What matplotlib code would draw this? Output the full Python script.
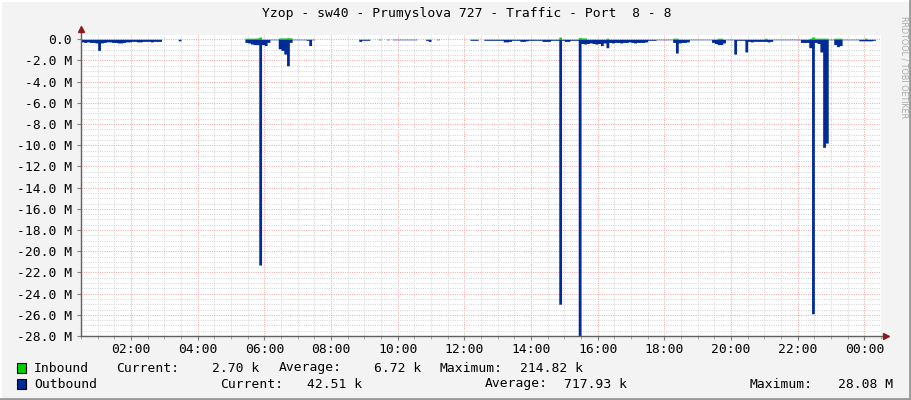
import numpy as np
import matplotlib
matplotlib.use("Agg")
import matplotlib.pyplot as plt
from matplotlib.lines import Line2D
from matplotlib.patches import Rectangle
from matplotlib.ticker import FixedLocator, MultipleLocator

N = np.nan

# 5-minute samples from 00:30 to 00:30 next day, values in Mbit/s
outbound = [
    0.25, 0.3, 0.25, 0.3, 0.3, 0.35, 1.05, 0.35, 0.3, 0.25, 0.25, 0.3,
    0.3, 0.35, 0.35, 0.3, 0.25, 0.25, 0.2, 0.2, 0.25, 0.25, 0.2, 0.2,
    0.2, 0.25, 0.2, 0.2, 0.2, N, N, N, N, N, N, 0.15,
    N, N, N, N, N, N, N, N, N, N, N, N,
    N, N, N, N, N, N, N, N, N, N, N, 0.3,
    0.35, 0.45, 0.5, 0.5, 21.3, 0.5, 0.6, 0.3, 0.05, 0.05, 0.05, 0.9,
    1.05, 1.4, 2.5, 0.3, 0.05, 0.05, 0.05, 0.05, 0.05, 0.1, 0.6, 0.05,
    N, N, N, N, N, N, N, N, N, N, N, N,
    N, N, N, N, 0.2, 0.1, 0.1, 0.1, N, N, N, 0.05,
    N, N, 0.05, N, 0.05, 0.05, 0.05, 0.05, 0.05, 0.05, 0.05, 0.05,
    0.05, N, N, N, 0.1, 0.2, N, N, 0.05, N, N, N,
    N, N, N, N, N, N, N, N, 0.1, 0.1, 0.1, N,
    N, 0.1, 0.1, 0.1, 0.1, 0.1, 0.1, 0.1, 0.25, 0.25, 0.2, 0.1,
    0.1, 0.1, 0.2, 0.2, 0.15, 0.1, 0.1, 0.1, 0.1, 0.1, 0.2, 0.2,
    0.2, 0.1, 0.1, 0.1, 25.0, 0.1, 0.2, 0.2, 0.1, 0.1, 0.1, 28.08,
    0.4, 0.45, 0.4, 0.35, 0.4, 0.45, 0.4, 0.6, 0.35, 0.8, 0.3, 0.35,
    0.3, 0.3, 0.35, 0.3, 0.3, 0.25, 0.3, 0.35, 0.3, 0.3, 0.3, 0.25,
    0.1, 0.1, 0.1, 0.05, 0.05, 0.05, 0.05, 0.05, 0.05, 0.3, 1.3, 0.35,
    0.3, 0.3, 0.25, 0.05, 0.05, 0.05, 0.05, 0.05, 0.05, 0.05, 0.05, 0.3,
    0.4, 0.5, 0.5, 0.35, 0.05, 0.05, 0.05, 1.4, 0.1, 0.1, 0.1, 1.2,
    0.2, 0.25, 0.2, 0.2, 0.2, 0.2, 0.2, 0.25, 0.2, 0.05, 0.05, 0.05,
    0.05, 0.05, 0.05, 0.05, 0.05, 0.05, 0.05, 0.3, 0.3, 0.3, 0.8, 25.9,
    0.3, 0.4, 1.2, 10.2, 9.8, 0.05, 0.05, 0.5, 0.7, 0.6, 0.05, 0.05,
    0.05, 0.05, 0.05, 0.05, 0.15, 0.15, 0.15, 0.15, 0.15, 0.1, N, N,
]

inbound = [
    0, 0, 0, 0, 0, 0, 0, 0, 0, 0, 0, 0,
    0, 0, 0, 0, 0, 0, 0, 0, 0, 0, 0, 0,
    0, 0, 0, 0, 0, 0, 0, 0, 0, 0, 0, 0,
    0, 0, 0, 0, 0, 0, 0, 0, 0, 0, 0, 0,
    0, 0, 0, 0, 0, 0, 0, 0, 0, 0, 0, 0.1,
    0.1, 0.1, 0.1, 0.12, 0.2, 0, 0, 0, 0, 0, 0, 0.12,
    0.12, 0.12, 0.15, 0.12, 0, 0, 0, 0, 0, 0, 0, 0,
    0, 0, 0, 0, 0, 0, 0, 0, 0, 0, 0, 0,
    0, 0, 0, 0, 0, 0, 0, 0, 0, 0, 0, 0,
    0, 0, 0, 0, 0, 0, 0, 0, 0, 0, 0, 0,
    0, 0, 0, 0, 0, 0, 0, 0, 0, 0, 0, 0,
    0, 0, 0, 0, 0, 0, 0, 0, 0, 0, 0, 0,
    0, 0, 0, 0, 0, 0, 0, 0, 0, 0, 0, 0,
    0, 0, 0, 0, 0, 0, 0, 0, 0, 0, 0, 0,
    0, 0, 0, 0, 0.2, 0, 0, 0, 0, 0, 0, 0.15,
    0.12, 0.12, 0, 0, 0, 0, 0, 0, 0, 0.1, 0, 0,
    0, 0, 0, 0, 0, 0, 0, 0, 0, 0, 0, 0,
    0, 0, 0, 0, 0, 0, 0, 0, 0, 0.1, 0.1, 0,
    0, 0, 0, 0, 0, 0, 0, 0, 0, 0, 0, 0,
    0, 0.1, 0.1, 0, 0, 0, 0, 0, 0, 0, 0, 0,
    0, 0, 0, 0, 0, 0, 0.1, 0, 0, 0, 0, 0,
    0, 0, 0, 0, 0, 0, 0, 0, 0, 0, 0.1, 0.21,
    0.1, 0.1, 0.1, 0.1, 0.1, 0, 0, 0.1, 0.1, 0.1, 0, 0,
    0, 0, 0, 0, 0, 0, 0.1, 0, 0, 0, 0, 0,
]

start_hour = 0.5
step_hours = 5 / 60
x_ticks = list(range(2, 25, 2))
x_labels = ["02:00", "04:00", "06:00", "08:00", "10:00", "12:00",
            "14:00", "16:00", "18:00", "20:00", "22:00", "00:00"]
y_ticks = list(range(-28, 1, 2))

title = "Yzop - sw40 - Prumyslova 727 - Traffic - Port  8 - 8"
legend_rows = [
    ("#00CF00", "Inbound", [("Current:", 116), ("2.70 k", 259), ("Average:", 279),
                             ("6.72 k", 421), ("Maximum:", 440), ("214.82 k", 583)]),
    ("#002A97", "Outbound", [("Current:", 220), ("42.51 k", 362), ("Average:", 485),
                              ("717.93 k", 627), ("Maximum:", 749), ("28.08 M", 893)]),
]

W, H = 911, 400
BG = "#F3F3F3"
FONT = "DejaVu Sans Mono"
FS = 9.4

fig = plt.figure(figsize=(W / 100, H / 100), dpi=100, facecolor=BG)
ax = fig.add_axes([81 / W, (H - 336) / H, 800 / W, 301 / H])
ax.set_facecolor("white")

n = len(outbound)
t = start_hour + np.arange(n + 1) * step_hours
out = np.nan_to_num(np.array(outbound, dtype=float))
inb = np.nan_to_num(np.array(inbound, dtype=float))
out = np.append(out, out[-1])
inb = np.append(inb, inb[-1])

ax.fill_between(t, 0, inb, step="post", color="#00CF00", linewidth=0, zorder=3)
ax.fill_between(t, 0, -out, step="post", color="#002A97", linewidth=0, zorder=3)

ax.set_xlim(start_hour, start_hour + n * step_hours)
ax.set_ylim(-28.0, 0.4)

ax.xaxis.set_major_locator(FixedLocator(x_ticks))
ax.xaxis.set_minor_locator(MultipleLocator(0.5))
ax.set_xticklabels(x_labels)
ax.yaxis.set_major_locator(FixedLocator(y_ticks))
ax.yaxis.set_minor_locator(MultipleLocator(0.5))
ax.set_yticklabels([("0.0" if v == 0 else f"{v:.1f} M") for v in y_ticks])

ax.set_axisbelow(True)
ax.grid(which="major", color="#F5ABAB", linestyle=(0, (1, 1.2)), linewidth=0.75)
ax.grid(which="minor", color="#D8D8D8", linestyle=(0, (1, 1.2)), linewidth=0.75)

for s in ax.spines.values():
    s.set_visible(False)
ax.tick_params(axis="y", which="major", length=3, color="#808080", pad=3.5,
               labelsize=FS, labelfontfamily=FONT)
ax.tick_params(axis="y", which="minor", length=0)
ax.tick_params(axis="x", which="major", length=3, color="#808080", pad=2,
               labelsize=FS, labelfontfamily=FONT)
ax.tick_params(axis="x", which="minor", length=2, color="#A0A0A0")

# axes with arrows, rrdtool style
ax.plot([0, 0], [0, 1.013], transform=ax.transAxes, color="#606060", lw=1,
        clip_on=False, zorder=5)
ax.plot([0, 1.006], [0, 0], transform=ax.transAxes, color="#606060", lw=1,
        clip_on=False, zorder=5)
ax.plot([0], [1.02], marker="^", markersize=5, color="#8B1A1A", transform=ax.transAxes,
        clip_on=False, zorder=6)
ax.plot([1.006], [0], marker=">", markersize=5, color="#8B1A1A", transform=ax.transAxes,
        clip_on=False, zorder=6)

fig.text(467 / W, 1 - 14 / H, title, ha="center", va="center", fontsize=FS,
         family=FONT, color="black")
fig.text(904 / W, 1 - 67 / H, "RRDTOOL / TOBI OETIKER", rotation=270, ha="center",
         va="center", fontsize=5.8, family="DejaVu Sans", color="#A8A8A8")

for row, (color, name, items) in enumerate(legend_rows):
    yc = 368 + row * 16
    fig.patches.append(Rectangle((17 / W, 1 - (yc + 5) / H), 9 / W, 10 / H,
                                 transform=fig.transFigure, facecolor=color,
                                 edgecolor="black", linewidth=0.8))
    fig.text(34 / W, 1 - yc / H, name, ha="left", va="center", fontsize=FS, family=FONT)
    for label, xp in items:
        ha = "left" if label.endswith(":") else "right"
        fig.text(xp / W, 1 - yc / H, label, ha=ha, va="center", fontsize=FS, family=FONT)

# 3d frame
fig.lines.append(Line2D([0, 1], [1 - 0.5 / H, 1 - 0.5 / H], transform=fig.transFigure,
                        color="#FFFFFF", lw=1.5))
fig.lines.append(Line2D([0.5 / W, 0.5 / W], [0, 1], transform=fig.transFigure,
                        color="#FFFFFF", lw=1.5))
fig.lines.append(Line2D([0, 1], [1.2 / H, 1.2 / H], transform=fig.transFigure,
                        color="#9A9A9A", lw=2))
fig.lines.append(Line2D([1 - 1.2 / W, 1 - 1.2 / W], [0, 1], transform=fig.transFigure,
                        color="#9A9A9A", lw=2))

fig.savefig("out.png", dpi=100, facecolor=BG)
